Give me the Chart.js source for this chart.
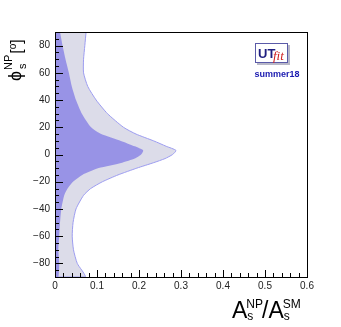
<!DOCTYPE html>
<html lang="en">
<head>
  <meta charset="UTF-8">
  <title>phi_s NP vs A_s NP / A_s SM</title>
  <script src="https://cdn.jsdelivr.net/npm/chart.js"></script>
  <style>
    html, body {
      margin: 0;
      padding: 0;
      background: #fff;
    }
  </style>
</head>
<body>
  <canvas id="fitPlot" width="341" height="327"></canvas>

  <script>
    // phi_s^NP values (degrees) along which the contours were read
    const phiValues = [90, 80, 70, 60, 50, 40, 30, 20, 15, 10, 6, 3, 0, -3, -6, -10, -15, -20, -25, -30, -40, -50, -60, -70, -80, -90];
    // A_s^NP/A_s^SM at the edge of the 95% region
    const outer95 = [0.074, 0.071, 0.068, 0.068, 0.078, 0.098, 0.125, 0.163, 0.193, 0.235, 0.265, 0.288, 0.280, 0.262, 0.235, 0.195, 0.150, 0.113, 0.085, 0.068, 0.050, 0.043, 0.041, 0.044, 0.053, 0.072];
    // A_s^NP/A_s^SM at the edge of the 68% region
    const inner68 = [0.012, 0.018, 0.025, 0.033, 0.040, 0.050, 0.064, 0.086, 0.110, 0.157, 0.190, 0.210, 0.205, 0.190, 0.160, 0.104, 0.065, 0.043, 0.030, 0.022, 0.015, 0.012, 0.010, 0.008, 0.010, 0.008];

    const xTicks = [0, 0.1, 0.2, 0.3, 0.4, 0.5, 0.6];
    const xTickLabels = ['0', '0.1', '0.2', '0.3', '0.4', '0.5', '0.6'];
    const yTicks = [-80, -60, -40, -20, 0, 20, 40, 60, 80];
    const yTickLabels = ['\u221280', '\u221260', '\u221240', '\u221220', '0', '20', '40', '60', '80'];

    // region between the y axis (x = 0) and the contour edge
    function region(xs) {
      const pts = phiValues.map((phi, i) => ({ x: xs[i], y: phi }));
      pts.push({ x: 0, y: phiValues[phiValues.length - 1] });
      pts.push({ x: 0, y: phiValues[0] });
      return pts;
    }

    const tickFont = { family: "'Liberation Sans', Arial, sans-serif", size: 10 };

    // ROOT-like frame with inward ticks, axis titles and the UTfit logo
    const decorations = {
      id: 'decorations',
      afterDraw(chart) {
        const { ctx, chartArea: a, scales: { x, y } } = chart;
        ctx.save();
        ctx.strokeStyle = '#000';
        ctx.lineWidth = 1;

        ctx.beginPath();
        for (let i = 0; i <= 30; i++) {
          const px = Math.round(x.getPixelForValue(i * 0.02)) + 0.5;
          const len = i % 5 === 0 ? 7 : 4;
          ctx.moveTo(px, a.bottom);
          ctx.lineTo(px, a.bottom - len);
        }
        for (let i = 0; i <= 36; i++) {
          const v = -90 + i * 5;
          const py = Math.round(y.getPixelForValue(v)) + 0.5;
          const len = v % 20 === 0 ? 8 : 4;
          ctx.moveTo(a.left, py);
          ctx.lineTo(a.left + len, py);
        }
        ctx.stroke();
        ctx.strokeRect(Math.round(a.left) + 0.5, Math.round(a.top) + 0.5,
          Math.round(a.right - a.left), Math.round(a.bottom - a.top));

        // x title: A_s^NP / A_s^SM
        const fam = "'Liberation Sans', Arial, sans-serif";
        ctx.fillStyle = '#000';
        ctx.textBaseline = 'alphabetic';
        ctx.textAlign = 'left';
        let cx = 232;
        const base = 318;
        const big = '23px ' + fam, small = '12px ' + fam;
        ctx.font = big; ctx.fillText('A', cx, base); cx += ctx.measureText('A').width - 1;
        ctx.font = small; ctx.fillText('NP', cx, base - 10); ctx.fillText('s', cx + 1, base + 2);
        cx += ctx.measureText('NP').width - 1;
        ctx.font = big; ctx.fillText('/', cx, base); cx += ctx.measureText('/').width;
        ctx.fillText('A', cx, base); cx += ctx.measureText('A').width - 1;
        ctx.font = small; ctx.fillText('SM', cx, base - 10); ctx.fillText('s', cx + 1, base + 2);

        // y title: phi_s^NP [o], rotated
        ctx.save();
        ctx.translate(21, 81);
        ctx.rotate(-Math.PI / 2);
        let u = 0;
        ctx.font = '18px ' + fam; ctx.fillText('\u03d5', u, 0); u += ctx.measureText('\u03d5').width + 1;
        ctx.font = '11px ' + fam; ctx.fillText('NP', u, -9); ctx.fillText('s', u + 1, 5);
        u += ctx.measureText('NP').width + 1;
        ctx.font = '16px ' + fam; ctx.fillText('[', u, 1); u += ctx.measureText('[').width;
        ctx.font = '10px ' + fam; ctx.fillText('o', u, -5); u += ctx.measureText('o').width;
        ctx.font = '16px ' + fam; ctx.fillText(']', u, 1);
        ctx.restore();

        // UTfit logo
        ctx.fillStyle = '#b8b8c8';
        ctx.fillRect(257, 45, 33, 20);
        ctx.fillStyle = '#fff';
        ctx.fillRect(255, 43, 33, 20);
        ctx.strokeStyle = '#5a5aa8';
        ctx.strokeRect(255.5, 43.5, 32, 19);
        ctx.fillStyle = '#1e1e80';
        ctx.font = 'bold 13px ' + fam;
        ctx.fillText('UT', 258, 58);
        ctx.fillStyle = '#d02020';
        ctx.font = "italic 13px 'Liberation Serif', serif";
        ctx.fillText('fit', 273, 60);
        ctx.fillStyle = '#1a1ab0';
        ctx.font = 'bold 9px ' + fam;
        ctx.textAlign = 'center';
        ctx.fillText('summer18', 277, 77);
        ctx.restore();
      }
    };

    const ctx = document.getElementById('fitPlot').getContext('2d');
    const fitChart = new Chart(ctx, {
      type: 'scatter',
      data: {
        datasets: [
          {
            label: '68%',
            data: region(inner68),
            showLine: true,
            fill: 'shape',
            backgroundColor: '#9893e6',
            borderColor: '#9893e6',
            borderWidth: 0,
            pointRadius: 0,
            tension: 0.2
          },
          {
            label: '95%',
            data: region(outer95),
            showLine: true,
            fill: 'shape',
            backgroundColor: '#dcdce9',
            borderColor: '#9c9cf0',
            borderWidth: 1,
            pointRadius: 0,
            tension: 0.2
          }
        ]
      },
      options: {
        responsive: false,
        animation: false,
        layout: { padding: { top: 32, right: 34, left: 0, bottom: 0 } },
        plugins: {
          legend: { display: false },
          tooltip: { enabled: false }
        },
        scales: {
          x: {
            type: 'linear',
            min: 0,
            max: 0.6,
            grid: { display: false, drawTicks: false },
            border: { display: false },
            afterBuildTicks: s => { s.ticks = xTicks.map(v => ({ value: v })); },
            afterFit: s => { s.height = 50; },
            ticks: {
              autoSkip: false,
              maxRotation: 0,
              padding: 3,
              color: '#222',
              font: tickFont,
              callback: (v, i) => xTickLabels[i]
            }
          },
          y: {
            type: 'linear',
            min: -90,
            max: 90,
            grid: { display: false, drawTicks: false },
            border: { display: false },
            afterBuildTicks: s => { s.ticks = yTicks.map(v => ({ value: v })); },
            afterFit: s => { s.width = 55; },
            ticks: {
              autoSkip: false,
              padding: 5,
              color: '#222',
              font: tickFont,
              callback: (v, i) => yTickLabels[i]
            }
          }
        }
      },
      plugins: [decorations]
    });
  </script>
</body>
</html>
